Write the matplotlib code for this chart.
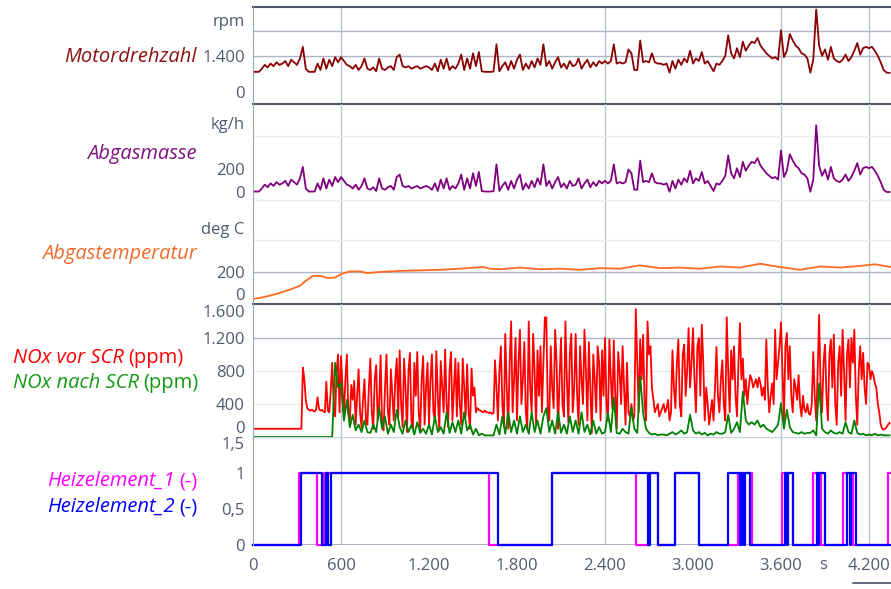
import numpy as np
import matplotlib.pyplot as plt

plt.rcParams['font.family'] = ['Open Sans', 'DejaVu Sans']

# ---------------- data ----------------
t20 = np.arange(0, 4360, 20)  # sample times [s] for rpm, mass, NOx after SCR
t10 = np.arange(0, 4350, 10)  # sample times [s] for NOx before SCR

rpm = [780, 780, 780, 900, 1050, 950, 1100, 1000, 1150, 1050,
       1100, 1200, 1000, 1250, 1150, 1050, 1300, 1750, 900, 780,
       780, 780, 1100, 850, 1300, 900, 1250, 1000, 1350, 1150,
       1350, 1200, 1050, 1000, 900, 1050, 850, 1000, 1300, 900,
       850, 950, 800, 1300, 900, 850, 950, 1000, 850, 1350,
       1450, 1000, 950, 1000, 900, 950, 1000, 900, 950, 1000,
       950, 850, 1100, 800, 1250, 900, 1300, 850, 1000, 900,
       1100, 1450, 850, 1300, 900, 1500, 1000, 1550, 800, 780,
       780, 780, 790, 1850, 800, 1000, 1150, 850, 1200, 900,
       1250, 1450, 850, 1100, 900, 1200, 950, 1300, 1050, 1850,
       1000, 1200, 900, 1150, 1350, 950, 1100, 900, 1200, 1000,
       1050, 1300, 900, 1100, 1250, 950, 1150, 1000, 1200, 1100,
       1200, 1100, 1200, 1850, 1100, 1150, 1100, 1150, 1650, 1500,
       850, 850, 2000, 1150, 1200, 1150, 1500, 1150, 1100, 1100,
       1050, 1100, 750, 1200, 900, 1250, 1050, 1300, 1150, 1600,
       1100, 1300, 1200, 1550, 1100, 1200, 1000, 800, 1100, 1050,
       1200, 1400, 2200, 1500, 1300, 1700, 1350, 1950, 1600, 1800,
       1950, 1900, 2100, 1800, 1650, 1500, 1400, 1300, 1350, 1250,
       2400, 1350, 1600, 2250, 2000, 1800, 1700, 1500, 1450, 1300,
       750, 1250, 3200, 1800, 1400, 1650, 1250, 1750, 1300, 1200,
       1150, 1250, 1450, 1200, 1350, 1600, 1900, 1450, 1700, 1750,
       1700, 1750, 1600, 1400, 1150, 850, 750, 740]

abgasmasse = [4, 4, 4, 31, 64, 42, 75, 53, 86, 64,
              75, 97, 53, 108, 86, 64, 119, 218, 31, 4,
              4, 4, 75, 20, 119, 31, 108, 53, 130, 86,
              130, 97, 64, 53, 31, 64, 20, 53, 119, 31,
              20, 42, 9, 119, 31, 20, 42, 53, 20, 130,
              152, 53, 42, 53, 31, 42, 53, 31, 42, 53,
              42, 20, 75, 9, 108, 31, 119, 20, 53, 31,
              75, 152, 20, 119, 31, 163, 53, 174, 9, 4,
              4, 4, 7, 240, 9, 53, 86, 20, 97, 31,
              108, 152, 20, 75, 31, 97, 42, 119, 64, 240,
              53, 97, 31, 86, 130, 42, 75, 31, 97, 53,
              64, 119, 31, 75, 108, 42, 86, 53, 97, 75,
              97, 75, 97, 240, 75, 86, 75, 86, 196, 163,
              20, 20, 273, 86, 97, 86, 163, 86, 75, 75,
              64, 75, 2, 97, 31, 108, 64, 119, 86, 185,
              75, 119, 97, 174, 75, 97, 53, 9, 75, 64,
              97, 141, 317, 163, 119, 207, 130, 262, 185, 229,
              262, 251, 295, 229, 196, 163, 141, 119, 130, 108,
              361, 130, 185, 328, 273, 229, 207, 163, 152, 119,
              2, 108, 580, 229, 141, 196, 108, 218, 119, 97,
              86, 108, 152, 97, 130, 185, 251, 152, 207, 218,
              207, 218, 185, 141, 86, 20, 0, 0]

temp_t = [0, 48, 116, 184, 252, 320, 360, 410, 457, 511, 560, 607, 661, 730,
          777, 866, 1002, 1139, 1275, 1411, 1568, 1616, 1684, 1820, 1957,
          2093, 2229, 2366, 2502, 2639, 2775, 2911, 3048, 3184, 3320, 3457,
          3593, 3729, 3866, 4002, 4139, 4241, 4350]
temp = [-45, -35, -15, 10, 40, 75, 120, 165, 165, 145, 150, 185, 205, 205,
        190, 200, 210, 215, 220, 230, 245, 230, 225, 240, 225,
        230, 220, 235, 230, 260, 235, 240, 230, 250, 240, 275,
        245, 220, 250, 240, 255, 270, 245]

nox_vor = [100, 100, 100, 100, 100, 100, 100, 100, 100, 100,
           100, 100, 100, 100, 100, 100, 100, 100, 100, 100,
           100, 100, 100, 100, 100, 100, 100, 100, 100, 100,
           100, 100, 100, 100, 840, 700, 450, 350, 330, 320,
           330, 320, 310, 330, 480, 340, 320, 330, 310, 300,
           670, 320, 300, 560, 900, 400, 250, 800, 1000, 300,
           980, 600, 240, 700, 1000, 300, 200, 630, 450, 680,
           150, 500, 820, 300, 120, 450, 700, 200, 150, 600,
           950, 300, 100, 700, 870, 200, 400, 990, 150, 80,
           600, 1000, 300, 150, 820, 500, 200, 700, 950, 250,
           1050, 400, 120, 950, 600, 60, 800, 1020, 200, 100,
           900, 500, 1030, 300, 80, 700, 980, 150, 600, 900,
           150, 700, 1000, 300, 200, 1040, 500, 80, 920, 600,
           300, 1060, 400, 120, 800, 1030, 200, 600, 950, 250,
           900, 400, 150, 950, 600, 250, 880, 300, 100, 830,
           500, 600, 300, 350, 330, 320, 310, 300, 320, 300,
           300, 290, 300, 280, 290, 930, 600, 200, 800, 1100,
           400, 150, 1250, 600, 100, 900, 1400, 300, 700, 1200,
           200, 900, 1300, 400, 700, 1150, 300, 100, 1400, 600,
           300, 1250, 800, 150, 1050, 500, 1100, 300, 900, 1450,
           1450, 300, 200, 1100, 600, 350, 1300, 900, 100, 700,
           1200, 400, 250, 1400, 700, 180, 1000, 1250, 300, 600,
           1250, 500, 150, 1100, 700, 400, 1300, 800, 200, 1150,
           600, 50, 1000, 700, 300, 1100, 900, 200, 1050, 500,
           1200, 400, 200, 1180, 700, 350, 1170, 500, 100, 1030,
           800, 400, 1100, 600, 150, 900, 300, 250, 400, 200,
           250, 1550, 900, 300, 1180, 700, 1240, 400, 200, 1400,
           1000, 1100, 600, 450, 300, 350, 400, 250, 300, 350,
           400, 300, 350, 450, 200, 300, 1050, 600, 350, 900,
           1180, 400, 250, 1000, 1120, 500, 800, 1320, 600, 900,
           1320, 700, 300, 1100, 1200, 500, 1360, 900, 200, 600,
           400, 150, 300, 450, 200, 600, 1090, 500, 300, 700,
           930, 400, 200, 1450, 800, 300, 1050, 700, 1100, 500,
           250, 900, 1380, 700, 950, 500, 700, 400, 600, 750,
           700, 600, 650, 700, 600, 720, 650, 500, 600, 450,
           1180, 600, 300, 500, 650, 400, 1300, 700, 900, 1100,
           1390, 800, 200, 1100, 1260, 700, 1100, 500, 300, 700,
           600, 450, 750, 400, 250, 500, 330, 300, 400, 280,
           270, 400, 1030, 500, 200, 800, 1480, 600, 300, 900,
           1120, 500, 200, 1000, 1180, 600, 1240, 400, 150, 900,
           1100, 500, 1300, 800, 200, 1000, 1180, 600, 1200, 900,
           1300, 500, 150, 800, 1100, 700, 1020, 600, 400, 900,
           870, 700, 800, 750, 650, 600, 400, 300, 150, 100,
           90, 100, 120, 150, 170]

nox_nach = [0, 0, 0, 0, 0, 0, 0, 0, 0, 0,
            0, 0, 0, 0, 0, 0, 0, 0, 0, 0,
            0, 0, 0, 0, 0, 0, 0, 0, 900, 600,
            650, 200, 450, 120, 270, 80, 150, 60, 200, 60,
            50, 150, 60, 360, 100, 250, 40, 150, 60, 330,
            120, 40, 200, 60, 150, 30, 180, 50, 100, 40,
            150, 30, 250, 60, 120, 40, 300, 50, 180, 60,
            200, 40, 300, 80, 150, 30, 100, 20, 40, 20,
            20, 20, 20, 150, 30, 250, 40, 300, 60, 200,
            40, 250, 60, 150, 40, 300, 60, 200, 40, 250,
            350, 60, 200, 40, 300, 50, 150, 40, 250, 60,
            200, 40, 300, 60, 150, 30, 200, 40, 120, 40,
            60, 290, 60, 480, 50, 40, 100, 60, 40, 360,
            100, 50, 730, 290, 100, 50, 30, 40, 20, 30,
            30, 20, 40, 60, 30, 50, 80, 40, 60, 270,
            80, 40, 60, 30, 50, 20, 40, 30, 60, 40,
            40, 60, 270, 50, 100, 180, 60, 550, 200, 150,
            180, 150, 200, 120, 150, 100, 80, 60, 100, 150,
            410, 100, 330, 120, 60, 50, 40, 60, 40, 50,
            50, 80, 20, 650, 100, 60, 40, 80, 50, 40,
            60, 40, 180, 60, 40, 200, 50, 30, 40, 20,
            30, 20, 40, 20, 30, 20, 20, 20]

heiz1_t = [0, 316, 434, 484, 1611, 2040, 2609, 2700, 2764, 2877, 3043, 3305,
           3400, 3605, 3680, 3816, 3871, 4025, 4093, 4332, 4350]
heiz1 = [0, 1, 0, 1, 0, 1, 0, 1, 0, 1, 0, 1,
         0, 1, 0, 1, 0, 1, 0, 1, 1]
heiz2_t = [0, 325, 468, 495, 512, 532, 1671, 2040, 2695, 2705, 2764, 2877,
           3043, 3241, 3320, 3332, 3345, 3352, 3390, 3628, 3639, 3650, 3680,
           3843, 3855, 3862, 3900, 4048, 4071, 4080, 4112, 4350]
heiz2 = [0, 1, 0, 1, 0, 1, 0, 1, 0, 1, 0, 1,
         0, 1, 0, 1, 0, 1, 0, 1, 0, 1, 0,
         1, 0, 1, 0, 1, 0, 1, 0, 0]

x_ticks = [0, 600, 1200, 1800, 2400, 3000, 3600, 4200]
x_labels = ['0', '600', '1.200', '1.800', '2.400', '3.000', '3.600', '4.200']
v_grid = [600, 2400, 3600, 4200]

# ---------------- figure ----------------
W, H = 891, 589
fig = plt.figure(figsize=(W / 100, H / 100), dpi=100)

TXT = '#4f5b6d'
DARK = '#4b5566'
VGRID = '#b9c3d1'
HGRID = '#aab5c6'
FAINT = '#ebedf0'
XMAX = 4350
TICK = 12


def panel(top, bottom, ylim):
    ax = fig.add_axes([253 / W, 1 - bottom / H, 1 - 253 / W, (bottom - top) / H])
    ax.set_facecolor('none')
    ax.set_xlim(0, XMAX)
    ax.set_ylim(*ylim)
    for s in ('top', 'right', 'bottom'):
        ax.spines[s].set_visible(False)
    ax.spines['left'].set_color('#9aa5b4')
    ax.tick_params(axis='x', length=0, labelbottom=False)
    ax.tick_params(axis='y', length=0, pad=6, labelsize=TICK, labelcolor=TXT)
    for v in v_grid:
        ax.axvline(v, color=VGRID, lw=1, zorder=0)
    return ax


# Motordrehzahl
ax1 = panel(7, 104, (-470, 3300))
ax1.set_yticks([0, 1400, 2800], ['0', '1.400', 'rpm'])
ax1.axhline(1400, color=HGRID, lw=1, zorder=0)
ax1.axhline(2370, color=HGRID, lw=1, zorder=0)
ax1.axhline(3300, color=DARK, lw=1.5, clip_on=False)
ax1.axhline(-470, color=DARK, lw=1.5, clip_on=False)
ax1.plot(t20, rpm, color='#8b0000', lw=1.3)

# Abgasmasse
ax2 = panel(104, 205, (-113, 765))
ax2.set_yticks([0, 200, 600], ['0', '200', 'kg/h'])
ax2.axhline(487, color=FAINT, lw=1, zorder=0)
ax2.axhline(-70, color=FAINT, lw=1, zorder=0)
ax2.plot(t20, abgasmasse, color='#800080', lw=1.3)

# Abgastemperatur
ax3 = panel(205, 304, (-91, 809))
ax3.set_yticks([0, 200, 600], ['0', '200', 'deg C'])
ax3.axhline(200, color=HGRID, lw=1, zorder=0)
ax3.axhline(491, color=FAINT, lw=1, zorder=0)
ax3.axhline(-91, color=DARK, lw=1.5, clip_on=False)
ax3.plot(temp_t, temp, color='#ff6a1f', lw=1.3)

# NOx
ax4 = panel(304, 439, (-24, 1612))
ax4.set_yticks([0, 400, 800, 1200, 1600], ['0', '400', '800', '1.200', '1.600'])
ax4.get_yticklabels()[0].set_va('bottom')
ax4.get_yticklabels()[-1].set_va('top')
ax4.axhline(1200, color=HGRID, lw=1, zorder=0)
ax4.axhline(800, color=FAINT, lw=1, zorder=0)
ax4.axhline(400, color=FAINT, lw=1, zorder=0)
ax4.plot(t10, nox_vor, color='#ff0000', lw=1.3)
ax4.plot(t20, nox_nach, color='#008000', lw=1.3)

# Heizelemente
ax5 = panel(437, 545, (0, 1.5))
ax5.set_yticks([0, 0.5, 1, 1.5], ['0', '0,5', '1', '1,5'])
ax5.get_yticklabels()[-1].set_va('top')
ax5.axhline(0, color='#9aa5b4', lw=1.2, zorder=0)
ax5.axhline(1.5, color='#c9d0da', lw=1, zorder=0)
ax5.step(heiz1_t, heiz1, where='post', color='#ff00ff', lw=1.6, clip_on=False)
ax5.step(heiz2_t, heiz2, where='post', color='#0000ff', lw=1.6, clip_on=False)
ax5.set_xticks(x_ticks, x_labels)
ax5.tick_params(axis='x', labelbottom=True, labelsize=TICK, labelcolor=TXT, pad=9)

fig.text(823 / W, 1 - 565 / H, 's', ha='center', va='center', fontsize=TICK, color=TXT)
fig.add_artist(plt.Line2D([853 / W, 1.0], [1 - 583 / H, 1 - 583 / H], color=DARK, lw=1.2))

# ---------------- channel names ----------------
LBL = 14.5
renderer = fig.canvas.get_renderer()


def name(y, text, color, x=197):
    fig.text(x / W, 1 - y / H, text, ha='right', va='center', fontsize=LBL,
             style='italic', color=color)


def name_unit_left(y, text, unit, color, x=13):
    a = fig.text(x / W, 1 - y / H, text, ha='left', va='center', fontsize=LBL,
                 style='italic', color=color)
    bb = a.get_window_extent(renderer)
    fig.text((bb.x1 + 4) / W, 1 - y / H, unit, ha='left', va='center',
             fontsize=LBL, color=color)


def name_unit_right(y, text, unit, color, x=197):
    u = fig.text(x / W, 1 - y / H, unit, ha='right', va='center', fontsize=LBL,
                 color=color)
    bb = u.get_window_extent(renderer)
    fig.text((bb.x0 - 4) / W, 1 - y / H, text, ha='right', va='center',
             fontsize=LBL, style='italic', color=color)


name(57, 'Motordrehzahl', '#8b1010')
name(154, 'Abgasmasse', '#80107e')
name(254, 'Abgastemperatur', '#f26a2a')
name_unit_left(358, 'NOx vor SCR', '(ppm)', '#ff0000')
name_unit_left(383, 'NOx nach SCR', '(ppm)', '#139a13')
name_unit_right(481, 'Heizelement_1', '(-)', '#ff00ff')
name_unit_right(507, 'Heizelement_2', '(-)', '#0000ff')

fig.savefig('out.png', dpi=100)
